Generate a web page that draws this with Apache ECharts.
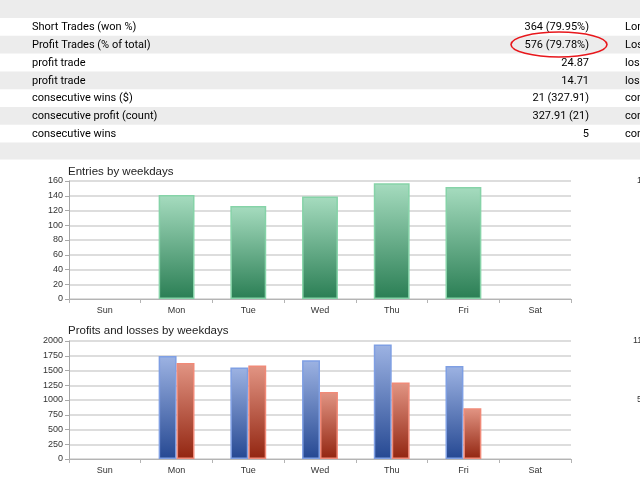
<!DOCTYPE html>
<html>
<head>
<meta charset="utf-8">
<script src="https://cdn.jsdelivr.net/npm/echarts@6/dist/echarts.min.js"></script>
<style>
  html, body { margin: 0; padding: 0; background: #fff; }
  #main { width: 640px; height: 480px; }
</style>
</head>
<body>
<div id="main"></div>
<script>
// summary table rows
var rowLabels = ['Short Trades (won %)', 'Profit Trades (% of total)', 'profit trade', 'profit trade',
                 'consecutive wins ($)', 'consecutive profit (count)', 'consecutive wins'];
var rowValues = ['364 (79.95%)', '576 (79.78%)', '24.87', '14.71', '21 (327.91)', '327.91 (21)', '5'];
var rightLabels = ['Long Trades (won %)', 'Loss Trades (% of total)', 'loss trade', 'loss trade',
                   'consecutive losses ($)', 'consecutive loss (count)', 'consecutive losses'];

// weekday charts
var weekdays = ['Sun', 'Mon', 'Tue', 'Wed', 'Thu', 'Fri', 'Sat'];
var entries = [0, 141, 126, 139, 157, 152, 0];
var profits = [0, 1747, 1551, 1675, 1939, 1578, 0];
var losses = [0, 1629, 1585, 1135, 1298, 860, 0];

var chart = echarts.init(document.getElementById('main'));

var rowH = 17.8;
var tableTop = 18;
var textFont = '11px Roboto, sans-serif';

var graphics = [];
// top and bottom gray bands
graphics.push({ type: 'rect', z: 0, shape: { x: 0, y: 0, width: 640, height: tableTop }, style: { fill: '#ececec' } });
graphics.push({ type: 'rect', z: 0, shape: { x: 0, y: tableTop + rowLabels.length * rowH, width: 640, height: 17 }, style: { fill: '#ececec' } });

rowLabels.forEach(function (label, i) {
    var y = tableTop + i * rowH;
    if (i % 2 == 1) {
        graphics.push({ type: 'rect', z: 0, shape: { x: 0, y: y, width: 640, height: rowH }, style: { fill: '#ececec' } });
    }
    var cy = y + rowH / 2 + 0.5;
    graphics.push({ type: 'text', z: 5, x: 32, y: cy, style: { text: label, fill: '#000', font: textFont, align: 'left', verticalAlign: 'middle' } });
    graphics.push({ type: 'text', z: 5, x: 589, y: cy, style: { text: rowValues[i], fill: '#000', font: textFont, align: 'right', verticalAlign: 'middle' } });
    graphics.push({ type: 'text', z: 5, x: 625, y: cy, style: { text: rightLabels[i], fill: '#000', font: textFont, align: 'left', verticalAlign: 'middle' } });
});

// red highlight around profit trades
graphics.push({ type: 'ellipse', z: 10, shape: { cx: 559, cy: 44.5, rx: 48, ry: 12.5 }, style: { fill: 'none', stroke: '#e8171c', lineWidth: 1.6 } });

// cut-off axis labels of the charts on the right
graphics.push({ type: 'text', z: 5, x: 637, y: 181, style: { text: '160', fill: '#333', font: '9px "Liberation Sans", Arial', verticalAlign: 'middle' } });
graphics.push({ type: 'text', z: 5, x: 633, y: 341, style: { text: '1100', fill: '#333', font: '9px "Liberation Sans", Arial', verticalAlign: 'middle' } });
graphics.push({ type: 'text', z: 5, x: 637, y: 400, style: { text: '550', fill: '#333', font: '9px "Liberation Sans", Arial', verticalAlign: 'middle' } });

function grad(top, bottom) {
    return new echarts.graphic.LinearGradient(0, 0, 0, 1, [
        { offset: 0, color: top },
        { offset: 1, color: bottom }
    ]);
}

// empty days get no bar at all
function bars(values) {
    return values.map(function (v) { return v > 0 ? v : '-'; });
}

var axisFont = { fontFamily: '"Liberation Sans", Arial', fontSize: 9, color: '#333' };

function catAxis(idx) {
    return {
        type: 'category',
        gridIndex: idx,
        data: weekdays,
        axisLine: { lineStyle: { color: '#b4b4b4', width: 1 } },
        axisTick: { show: true, length: 4, lineStyle: { color: '#b4b4b4' } },
        axisLabel: Object.assign({ margin: 7 }, axisFont)
    };
}

function valAxis(idx, max, step) {
    return {
        type: 'value',
        gridIndex: idx,
        min: 0,
        max: max,
        interval: step,
        axisLine: { show: true, lineStyle: { color: '#a8a8a8' } },
        axisTick: { show: true, length: 4, lineStyle: { color: '#a8a8a8' } },
        axisLabel: Object.assign({ margin: 6, formatter: function (v) { return String(v); } }, axisFont),
        splitLine: { lineStyle: { color: '#d2d2d2', width: 1.5 } }
    };
}

var titleStyle = { fontFamily: '"Liberation Sans", Arial', fontSize: 11.5, fontWeight: 'normal', color: '#222' };

var option = {
    animation: false,
    backgroundColor: '#fff',
    title: [
        { text: 'Entries by weekdays', left: 63, top: 161, textStyle: titleStyle },
        { text: 'Profits and losses by weekdays', left: 63, top: 320, textStyle: titleStyle }
    ],
    grid: [
        { left: 69, right: 69, top: 181, height: 118 },
        { left: 69, right: 69, top: 341, height: 118 }
    ],
    xAxis: [catAxis(0), catAxis(1)],
    yAxis: [valAxis(0, 160, 20), valAxis(1, 2000, 250)],
    series: [
        {
            name: 'Entries',
            type: 'bar',
            xAxisIndex: 0,
            yAxisIndex: 0,
            barWidth: '50%',
            data: bars(entries),
            itemStyle: { color: grad('#a6dcbf', '#2a7e54'), borderColor: '#86d3a8', borderWidth: 1.5 }
        },
        {
            name: 'Profits',
            type: 'bar',
            xAxisIndex: 1,
            yAxisIndex: 1,
            barGap: '0%',
            barCategoryGap: '50%',
            data: bars(profits),
            itemStyle: { color: grad('#9db3e3', '#254892'), borderColor: '#7f9fe3', borderWidth: 1.5 }
        },
        {
            name: 'Losses',
            type: 'bar',
            xAxisIndex: 1,
            yAxisIndex: 1,
            barGap: '0%',
            barCategoryGap: '50%',
            data: bars(losses),
            itemStyle: { color: grad('#e29584', '#922510'), borderColor: '#f08a78', borderWidth: 1.5 }
        }
    ],
    graphic: graphics
};

chart.setOption(option);
</script>
</body>
</html>
